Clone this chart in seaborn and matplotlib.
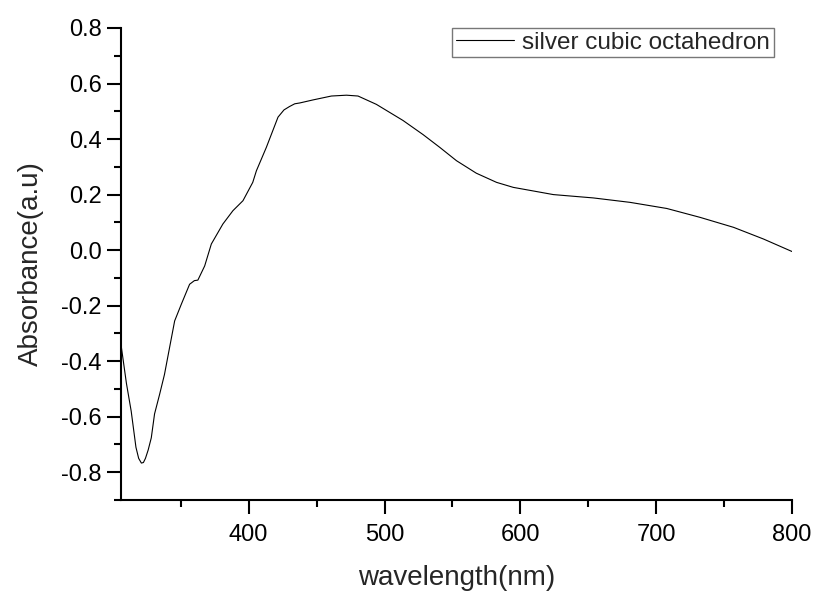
import matplotlib
matplotlib.use("Agg")
import matplotlib.pyplot as plt
from matplotlib.ticker import MultipleLocator
import seaborn as sns
import pandas as pd

wavelength = [306, 308, 310, 313.5, 317, 319, 321, 322.5, 324, 326, 328.3, 330.7, 334.4, 338, 341.8, 345.5,
              350.4, 356.5, 360, 362.6, 367.6, 372.5, 381, 388.4, 395.8, 403, 405.7,
              413, 421.6, 426, 430, 433.9, 437.6, 447.4, 460.9, 472, 480.5, 494,
              513.6, 528.4, 540.7, 553, 567.6, 582.5, 594.8, 613, 624.3, 653.7,
              680.8, 707.8, 732.3, 757, 779, 800]
absorbance = [-0.34, -0.41, -0.48, -0.58, -0.71, -0.75, -0.767, -0.765, -0.75, -0.72, -0.676, -0.59, -0.52, -0.448,
              -0.35, -0.255, -0.195, -0.123, -0.11, -0.108, -0.057, 0.022, 0.094,
              0.142, 0.178, 0.244, 0.286, 0.37, 0.479, 0.505, 0.517, 0.527, 0.53,
              0.541, 0.555, 0.558, 0.555, 0.525, 0.467, 0.416, 0.37, 0.322, 0.277,
              0.244, 0.226, 0.21, 0.2, 0.188, 0.172, 0.15, 0.118, 0.082, 0.04, -0.005]
series_name = "silver cubic octahedron"

df = pd.DataFrame({"wavelength": wavelength, "absorbance": absorbance, "series": series_name})

sns.set_style("ticks")
plt.rcParams["font.family"] = ["Liberation Sans", "DejaVu Sans"]

fig = plt.figure(figsize=(8.16, 5.94), dpi=100)
ax = fig.add_axes([121 / 816, 94 / 594, (792 - 121) / 816, (500 - 28) / 594])

sns.lineplot(data=df, x="wavelength", y="absorbance", hue="series",
             palette=["black"], linewidth=0.8, ax=ax)

ax.set_xlim(306, 800)
ax.set_ylim(-0.9, 0.8)
ax.xaxis.set_major_locator(MultipleLocator(100))
ax.xaxis.set_minor_locator(MultipleLocator(50))
ax.yaxis.set_major_locator(MultipleLocator(0.2))
ax.yaxis.set_minor_locator(MultipleLocator(0.1))
ax.set_yticks([-0.8, -0.6, -0.4, -0.2, 0.0, 0.2, 0.4, 0.6, 0.8])
ax.set_yticklabels(["-0.8", "-0.6", "-0.4", "-0.2", "0.0", "0.2", "0.4", "0.6", "0.8"])
ax.set_xticks([400, 500, 600, 700, 800])

for s in ["top", "right"]:
    ax.spines[s].set_visible(False)
for s in ["left", "bottom"]:
    ax.spines[s].set_linewidth(1.5)
    ax.spines[s].set_color("black")

ax.tick_params(axis="both", which="major", direction="out", length=10, width=1.5,
               labelsize=17, colors="black", pad=4)
ax.tick_params(axis="both", which="minor", direction="out", length=5, width=1.5, colors="black")
ax.tick_params(axis="x", which="major", pad=7)

ax.set_xlabel("wavelength(nm)", fontsize=20, labelpad=14)
ax.set_ylabel("Absorbance(a.u)", fontsize=20, labelpad=12)

leg = ax.legend(loc="upper right", bbox_to_anchor=(1 - 18 / 671, 1.0), fontsize=17.5,
                frameon=True, fancybox=False, handlelength=2.4, borderpad=0.15,
                handletextpad=0.35, borderaxespad=0.0)
leg.get_frame().set_edgecolor("#555555")
leg.get_frame().set_linewidth(1.0)

fig.savefig("out.png", dpi=100)
